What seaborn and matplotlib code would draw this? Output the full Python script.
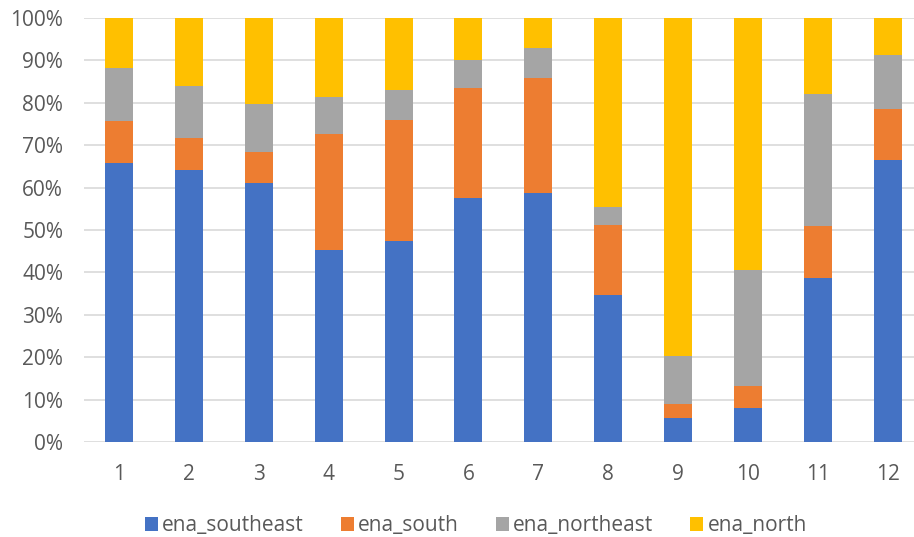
import numpy as np
import pandas as pd
import matplotlib
matplotlib.use("Agg")
import matplotlib.pyplot as plt
import seaborn as sns
from matplotlib.patches import Patch
from matplotlib.ticker import PercentFormatter

months = ["1", "2", "3", "4", "5", "6", "7", "8", "9", "10", "11", "12"]
ena_southeast = [65.9, 64.1, 61.0, 45.2, 47.4, 57.5, 58.8, 34.6, 5.6, 8.1, 38.6, 66.6]
ena_south = [9.7, 7.6, 7.5, 27.4, 28.6, 26.1, 27.1, 16.6, 3.4, 5.0, 12.3, 12.0]
ena_northeast = [12.7, 12.2, 11.3, 8.8, 7.0, 6.6, 7.1, 4.3, 11.3, 27.4, 31.1, 12.6]
ena_north = [11.7, 16.1, 20.2, 18.6, 17.0, 9.8, 7.0, 44.5, 79.7, 59.5, 18.0, 8.8]

series_names = ["ena_southeast", "ena_south", "ena_northeast", "ena_north"]
colors = ["#4472C4", "#ED7D31", "#A5A5A5", "#FFC000"]

df = pd.DataFrame({
    "month": months,
    "ena_southeast": ena_southeast,
    "ena_south": ena_south,
    "ena_northeast": ena_northeast,
    "ena_north": ena_north,
})
cum = df[series_names].cumsum(axis=1)
for c in series_names:
    df["cum_" + c] = cum[c]

sns.set_theme(style="white")
plt.rcParams["font.family"] = ["Open Sans", "DejaVu Sans"]

fig = plt.figure(figsize=(9.14, 5.37), dpi=100)
ax = fig.add_axes([84 / 914, 95 / 537, (914 - 84) / 914, 424 / 537])

for name, col in reversed(list(zip(series_names, colors))):
    sns.barplot(data=df, x="month", y="cum_" + name, color=col, width=0.4,
                saturation=1, ax=ax, order=months, edgecolor="none", zorder=3)

ax.set_ylim(0, 100)
ax.set_xlim(-0.5, 11.375)
ax.set_yticks(np.arange(0, 101, 10))
ax.yaxis.set_major_formatter(PercentFormatter(decimals=0))
ax.grid(axis="y", color="#D9D9D9", linewidth=1.2, zorder=0)
ax.grid(axis="x", visible=False)
for s in ax.spines.values():
    s.set_visible(False)
ax.set_xlabel("")
ax.set_ylabel("")
ax.tick_params(axis="both", length=0, labelsize=15, colors="#595959")
ax.tick_params(axis="x", pad=16)
ax.tick_params(axis="y", pad=15)

handles = [Patch(facecolor=c, edgecolor="none") for c in colors]
fig.legend(handles, series_names, loc="center", bbox_to_anchor=(476 / 914, 11 / 537),
           ncol=4, frameon=False, fontsize=15, handlelength=0.62, handleheight=0.62,
           handletextpad=0.2, columnspacing=1.78, labelcolor="#595959")

fig.savefig("out.png", dpi=100)
